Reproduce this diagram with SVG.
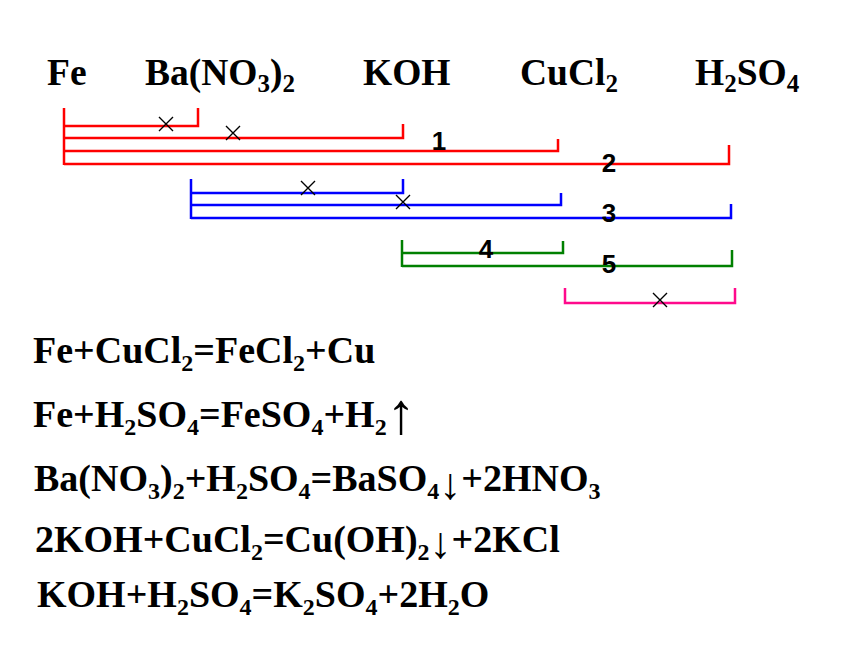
<svg xmlns="http://www.w3.org/2000/svg" width="860" height="645" viewBox="0 0 860 645">
<style>
.chem{font-family:"Liberation Serif","Times New Roman",serif;font-weight:bold;fill:#000}
.top{font-size:37.5px}
.eq{font-size:38px}
.sub{font-size:24px}
.tsub{font-size:25px}
.arr{font-size:44px}
.up{font-size:58px}
.num{font-family:"Liberation Sans",Arial,sans-serif;font-weight:bold;font-size:26px;fill:#000;text-anchor:middle}
.br{fill:none;stroke-width:2.5;stroke-linecap:butt;stroke-linejoin:miter}
.red{stroke:#ff0000}
.blue{stroke:#0000ff}
.green{stroke:#008000}
.pink{stroke:#ff0a8c}
.x{stroke:#000;stroke-width:1.4;fill:none}
</style>
<rect width="860" height="645" fill="#fff"/>
<g id="reagents">
<g id="n-fe"><text class="chem top" x="47" y="85">Fe</text></g>
<g id="n-bano3"><text class="chem top" x="145" y="85">Ba(NO<tspan class="tsub" dy="7">3</tspan><tspan dy="-7">)</tspan><tspan class="tsub" dy="7">2</tspan></text></g>
<g id="n-koh"><text class="chem top" x="363" y="85">KOH</text></g>
<g id="n-cucl2"><text class="chem top" x="520" y="85">CuCl<tspan class="tsub" dy="7">2</tspan></text></g>
<g id="n-h2so4"><text class="chem top" x="695" y="85">H<tspan class="tsub" dy="7">2</tspan><tspan dy="-7">SO</tspan><tspan class="tsub" dy="7">4</tspan></text></g>
</g>
<g id="connectors">
<path class="br red" d="M64,108 V165"/>
<path class="br red" d="M64,126 H198 V108"/>
<path class="br red" d="M64,138 H403 V124"/>
<path class="br red" d="M64,151 H558 V139"/>
<path class="br red" d="M64,164 H729 V145"/>
<path class="br blue" d="M191,179 V219"/>
<path class="br blue" d="M191,193 H403 V179"/>
<path class="br blue" d="M191,205 H561 V193"/>
<path class="br blue" d="M191,218 H731 V204"/>
<path class="br green" d="M402,240 V267"/>
<path class="br green" d="M402,253 H563 V241"/>
<path class="br green" d="M402,266 H732 V250"/>
<path class="br pink" d="M565,288 V303 H735 V288"/>
<g id="crosses">
<path class="x" d="M159,117 L173,131 M173,117 L159,131"/>
<path class="x" d="M226,126 L240,140 M240,126 L226,140"/>
<path class="x" d="M301,181 L315,195 M315,181 L301,195"/>
<path class="x" d="M396,195 L410,209 M410,195 L396,209"/>
<path class="x" d="M653,293 L667,307 M667,293 L653,307"/>
</g>
<text class="num" x="439" y="150">1</text>
<text class="num" x="609" y="172">2</text>
<text class="num" x="609" y="222">3</text>
<text class="num" x="486" y="258">4</text>
<text class="num" x="609" y="273">5</text>
</g>
<g id="equations">
<g id="eq1"><text class="chem eq" x="33" y="363">Fe+CuCl<tspan class="sub" dy="8">2</tspan><tspan dy="-8">=FeCl</tspan><tspan class="sub" dy="8">2</tspan><tspan dy="-8">+Cu</tspan></text></g>
<g id="eq2"><text class="chem eq" x="33" y="427">Fe+H<tspan class="sub" dy="8">2</tspan><tspan dy="-8">SO</tspan><tspan class="sub" dy="8">4</tspan><tspan dy="-8">=FeSO</tspan><tspan class="sub" dy="8">4</tspan><tspan dy="-8">+H</tspan><tspan class="sub" dy="8">2</tspan><tspan class="up" dy="-2">↑</tspan></text></g>
<g id="eq3"><text class="chem eq" x="34" y="491">Ba(NO<tspan class="sub" dy="8">3</tspan><tspan dy="-8">)</tspan><tspan class="sub" dy="8">2</tspan><tspan dy="-8">+H</tspan><tspan class="sub" dy="8">2</tspan><tspan dy="-8">SO</tspan><tspan class="sub" dy="8">4</tspan><tspan dy="-8">=BaSO</tspan><tspan class="sub" dy="8">4</tspan><tspan class="arr">↓</tspan><tspan dy="-8">+2HNO</tspan><tspan class="sub" dy="8">3</tspan></text></g>
<g id="eq4"><text class="chem eq" x="35" y="552">2KOH+CuCl<tspan class="sub" dy="8">2</tspan><tspan dy="-8">=Cu(OH)</tspan><tspan class="sub" dy="8">2</tspan><tspan class="arr" dy="-2">↓</tspan><tspan dy="-6">+2KCl</tspan></text></g>
<g id="eq5"><text class="chem eq" x="37" y="607">KOH+H<tspan class="sub" dy="8">2</tspan><tspan dy="-8">SO</tspan><tspan class="sub" dy="8">4</tspan><tspan dy="-8">=K</tspan><tspan class="sub" dy="8">2</tspan><tspan dy="-8">SO</tspan><tspan class="sub" dy="8">4</tspan><tspan dy="-8">+2H</tspan><tspan class="sub" dy="8">2</tspan><tspan dy="-8">O</tspan></text></g>
</g>
</svg>
